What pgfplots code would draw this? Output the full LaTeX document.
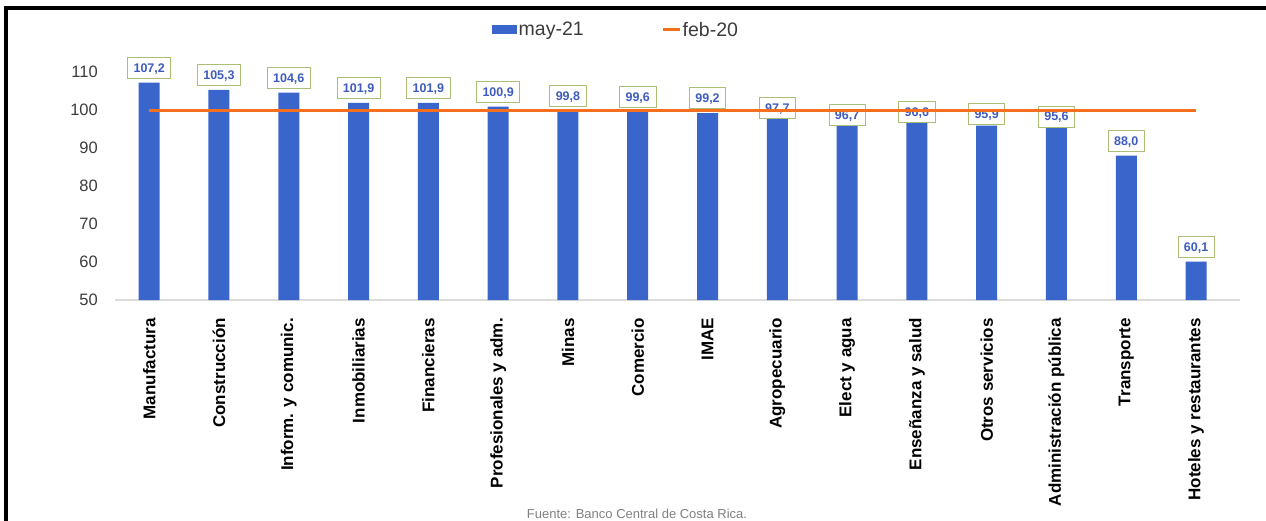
\documentclass[border=0pt]{standalone}
\usepackage{fontspec}
\setmainfont{Liberation Sans}
\usepackage{pgfplots}
\usepackage{pgfplotstable}
\pgfplotsset{compat=1.18}

\definecolor{barblue}{RGB}{58,102,204}
\definecolor{lineorange}{RGB}{245,112,30}
\definecolor{lblblue}{RGB}{62,92,190}
\definecolor{boxgreen}{RGB}{170,190,120}
\definecolor{basegray}{RGB}{220,220,220}
\definecolor{tickgray}{RGB}{60,60,60}

% x, value, label offset above the bar top (pt)
\pgfplotstableread{
x  y      dy
0  107.2  4
1  105.3  4
2  104.6  4
3  101.9  4
4  101.9  4
5  100.9  4
6  99.8   4
7  99.6   4
8  99.2   4
9  97.7   0
10 96.7   -3
11 96.6   0.5
12 95.9   1
13 95.6   -0.5
14 88.0   4
15 60.1   4
}\imae

\begin{document}
\begin{tikzpicture}
  \begin{axis}[
      set layers,
      at={(115pt,-300pt)}, anchor=south west,
      scale only axis,
      width=1125pt, height=228pt,
      xmin=-0.49, xmax=15.63,
      ymin=50, ymax=110,
      clip=false,
      axis lines*=left,
      axis line style={-},
      y axis line style={draw=none},
      x axis line style={draw=basegray, line width=1.5pt},
      major tick length=0pt,
      xtick={0,...,15},
      xticklabels={Manufactura, Construcción, Inform. y comunic., Inmobiliarias,
        Financieras, Profesionales y adm., Minas, Comercio, IMAE, Agropecuario,
        Elect y agua, Enseñanza y salud, Otros servicios, Administración pública,
        Transporte, Hoteles y restaurantes},
      xticklabel style={rotate=90, anchor=east, inner xsep=0pt,
        font=\bfseries\fontsize{17}{19}\selectfont, text=black},
      xticklabel shift={18pt},
      ytick={50,60,...,110},
      yticklabel style={inner xsep=0pt, font=\fontsize{16.5}{18}\selectfont, text=tickgray},
      yticklabel shift={17pt},
      /pgf/number format/assume math mode=true,
      legend columns=2,
      legend style={at={(0.3351,1.185)}, anchor=west, draw=none, fill=none,
        inner sep=0pt, font=\fontsize{19.5}{21}\selectfont, text=tickgray,
        nodes={inner sep=1.5pt},
        /tikz/every even column/.append style={column sep=76pt}},
    ]
    \addplot[ybar, bar width=21pt, fill=barblue, draw=none,
      legend image code/.code={\fill[barblue] (0pt,-4.5pt) rectangle (25pt,4.5pt);},
      visualization depends on={\thisrow{dy} \as \dy},
      nodes near coords={\pgfmathprintnumber[fixed,fixed zerofill,precision=1,use comma]{\pgfplotspointmeta}},
      nodes near coords style={font=\bfseries\fontsize{12.5}{13}\selectfont,
        text=lblblue, draw=boxgreen, fill=white, line width=0.7pt,
        inner xsep=6pt, inner ysep=6pt, text height=9pt, text depth=0pt,
        anchor=south, yshift=\dy pt}]
      table[x=x, y=y] {\imae};
    \addlegendentry{may-21}
    \addplot[sharp plot, no marks, draw=lineorange, line width=3pt,
      on layer=axis foreground,
      legend image code/.code={\draw[lineorange, line width=3pt] (0pt,0pt) -- (17pt,0pt);}]
      coordinates {(0,100) (15,100)};
    \addlegendentry{feb-20}
  \end{axis}
  \node[font=\fontsize{13}{15}\selectfont, text=gray] at (637pt,-514pt)
    {Fuente: Banco Central de Costa Rica.};
  \draw[line width=4pt, black] (6pt,-522pt) -- (6pt,-8pt) -- (1270pt,-8pt);
  \pgfresetboundingbox
  \useasboundingbox (0pt,0pt) rectangle (1266pt,-520pt);
\end{tikzpicture}
\end{document}
